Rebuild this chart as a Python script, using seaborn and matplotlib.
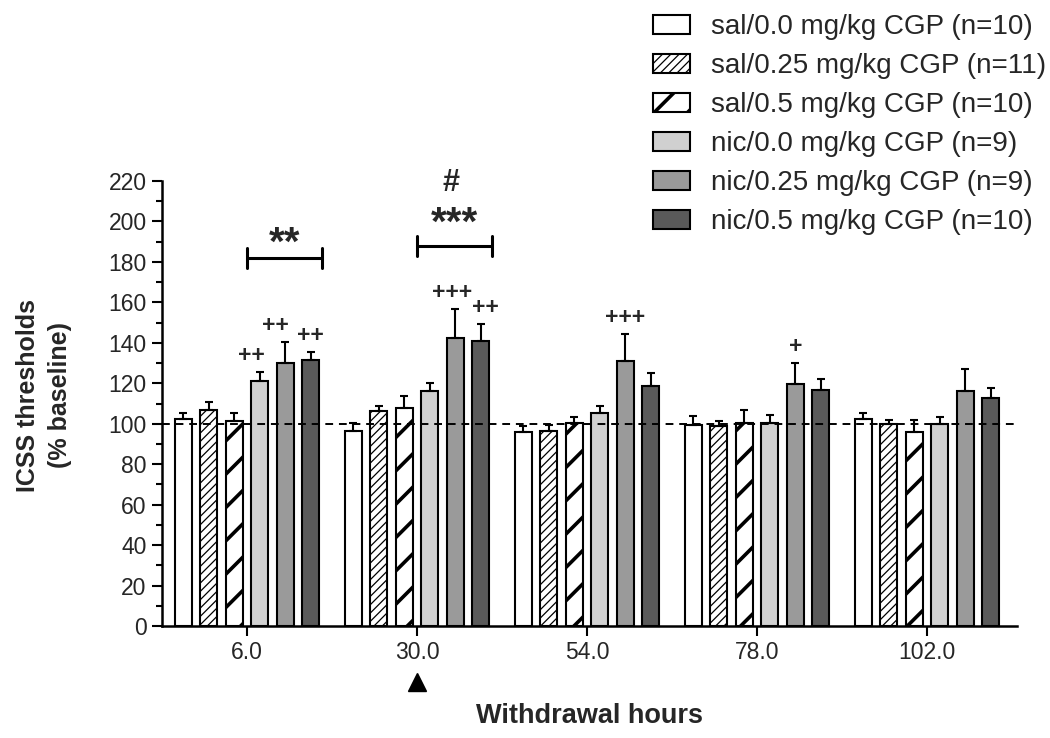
import numpy as np
import pandas as pd
import matplotlib
matplotlib.use('Agg')
import matplotlib.pyplot as plt
from matplotlib.ticker import MultipleLocator
import seaborn as sns

# withdrawal time points (x categories)
hours = ['6.0', '30.0', '54.0', '78.0', '102.0']

groups = ['sal/0.0 mg/kg CGP (n=10)', 'sal/0.25 mg/kg CGP (n=11)',
          'sal/0.5 mg/kg CGP (n=10)', 'nic/0.0 mg/kg CGP (n=9)',
          'nic/0.25 mg/kg CGP (n=9)', 'nic/0.5 mg/kg CGP (n=10)']

# mean ICSS thresholds (% baseline), one value per time point
sal_00 = [102.1, 96.2, 95.7, 99.5, 102.3]
sal_025 = [106.8, 106.3, 96.3, 98.7, 99.8]
sal_05 = [101.3, 107.7, 100.3, 100.2, 96.0]
nic_00 = [121.1, 116.0, 105.3, 100.3, 99.8]
nic_025 = [130.1, 142.5, 130.8, 119.4, 116.1]
nic_05 = [131.3, 141.0, 118.8, 116.9, 112.7]

# SEM (upper error bars only)
sem_sal_00 = [3.0, 4.3, 3.1, 4.3, 3.0]
sem_sal_025 = [3.9, 2.6, 3.1, 2.8, 2.0]
sem_sal_05 = [3.8, 6.0, 3.2, 6.6, 5.8]
sem_nic_00 = [4.4, 3.9, 3.3, 4.0, 3.3]
sem_nic_025 = [10.4, 14.3, 13.5, 10.6, 11.2]
sem_nic_05 = [4.0, 8.1, 6.1, 5.0, 5.1]

colors = ['white', 'white', 'white', '#d0d0d0', '#9a9a9a', '#5a5a5a']
hatches = ['', '////', '/', '', '', '']
hatch_widths = [1.0, 0.9, 2.6, 1.0, 1.0, 1.0]

# "+" marks above bars: (time index, group index, label, x nudge)
plus_marks = [(0, 3, '++', -0.05), (0, 4, '++', -0.06), (0, 5, '++', 0.0),
              (1, 4, '+++', -0.02), (1, 5, '++', 0.025), (2, 4, '+++', 0.0),
              (3, 4, '+', 0.0)]
# brackets over the nic groups: time index, bracket level, label, label level
bracket_hours = [0, 1]
bracket_levels = [182, 188]
bracket_labels = ['**', '***']
bracket_label_levels = [189, 199]
hash_hour = 1
hash_level = 219

means = [sal_00, sal_025, sal_05, nic_00, nic_025, nic_05]
sems = [sem_sal_00, sem_sal_025, sem_sal_05, sem_nic_00, sem_nic_025, sem_nic_05]

df = pd.DataFrame({
    'hour': hours * len(groups),
    'group': np.repeat(groups, len(hours)),
    'value': np.concatenate(means),
})

sns.set_style('ticks')
plt.rcParams['font.family'] = ['Liberation Sans', 'DejaVu Sans']

fig = plt.figure(figsize=(10.5, 7.38), dpi=100)
ax = fig.add_axes([0.1543, 0.1518, 0.8143, 0.6029])

sns.barplot(data=df, x='hour', y='value', hue='group', order=hours,
            hue_order=groups, palette=colors, saturation=1, width=0.9,
            gap=1/3, errorbar=None, edgecolor='black', linewidth=1.5,
            legend=False, ax=ax)

for container, hatch, hw, sem in zip(ax.containers, hatches, hatch_widths, sems):
    xs, tops = [], []
    for bar in container:
        bar.set_hatch(hatch)
        if hasattr(bar, 'set_hatch_linewidth'):
            bar.set_hatch_linewidth(hw)
        xs.append(bar.get_x() + bar.get_width() / 2)
        tops.append(bar.get_height())
    ax.errorbar(xs, tops, yerr=[np.zeros(len(sem)), sem], fmt='none',
                ecolor='black', elinewidth=1.5, capsize=3, capthick=1.5,
                zorder=3)

# baseline
ax.axhline(100, color='black', ls=(0, (4, 3)), lw=1.4, zorder=4)

# significance annotations
for hi, gi, label, dx in plus_marks:
    bar = ax.containers[gi][hi]
    x = bar.get_x() + bar.get_width() / 2 + dx
    y = means[gi][hi] + sems[gi][hi] + 2.5
    ax.text(x, y, label, ha='center', va='bottom', fontsize=16.5,
            fontweight='bold')

for hi, lvl, label, llvl in zip(bracket_hours, bracket_levels,
                                bracket_labels, bracket_label_levels):
    x0, x1 = hi, hi + 0.44
    ax.plot([x0, x1], [lvl, lvl], color='black', lw=2.2, clip_on=False)
    for xe in (x0, x1):
        ax.plot([xe, xe], [lvl - 5, lvl + 5], color='black', lw=2.2,
                clip_on=False)
    ax.text((x0 + x1) / 2, llvl, label, ha='center', va='center',
            fontsize=29, fontweight='bold')

ax.text(hash_hour + 0.2, hash_level, '#', ha='center', va='center',
        fontsize=22, fontweight='bold', clip_on=False)

# drug injection marker
ax.plot([1], [-0.126], marker='^', ms=13.5, color='black',
        transform=ax.get_xaxis_transform(), clip_on=False)

ax.set_xlim(-0.5, 4.53)
ax.set_ylim(0, 220)
ax.yaxis.set_major_locator(MultipleLocator(20))
ax.yaxis.set_minor_locator(MultipleLocator(10))
ax.tick_params(axis='both', which='major', direction='out', length=7,
               width=1.5, labelsize=16.5, color='black', pad=4)
ax.tick_params(axis='y', which='minor', direction='out', length=4,
               width=1.5, color='black')
sns.despine(ax=ax)
for sp in ('left', 'bottom'):
    ax.spines[sp].set_linewidth(1.8)
    ax.spines[sp].set_color('black')

ax.set_xlabel('Withdrawal hours', fontsize=19.5, fontweight='bold')
ax.xaxis.set_label_coords(0.5, -0.173)
ax.xaxis.label.set_va('top')
ax.set_ylabel('ICSS thresholds\n(% baseline)', fontsize=18,
              fontweight='bold', linespacing=1.45)
ax.yaxis.set_label_coords(-0.105, 0.518)

leg = fig.legend(ax.containers, groups, loc='upper right',
                 bbox_to_anchor=(0.996, 0.981), frameon=False, fontsize=20,
                 handlelength=1.33, handleheight=0.68, handletextpad=0.75,
                 labelspacing=0.47, borderpad=0, borderaxespad=0)
for handle, hw in zip(leg.legend_handles, hatch_widths):
    if hasattr(handle, 'set_hatch_linewidth'):
        handle.set_hatch_linewidth(hw)

fig.savefig('out.png', dpi=100, facecolor='white')
